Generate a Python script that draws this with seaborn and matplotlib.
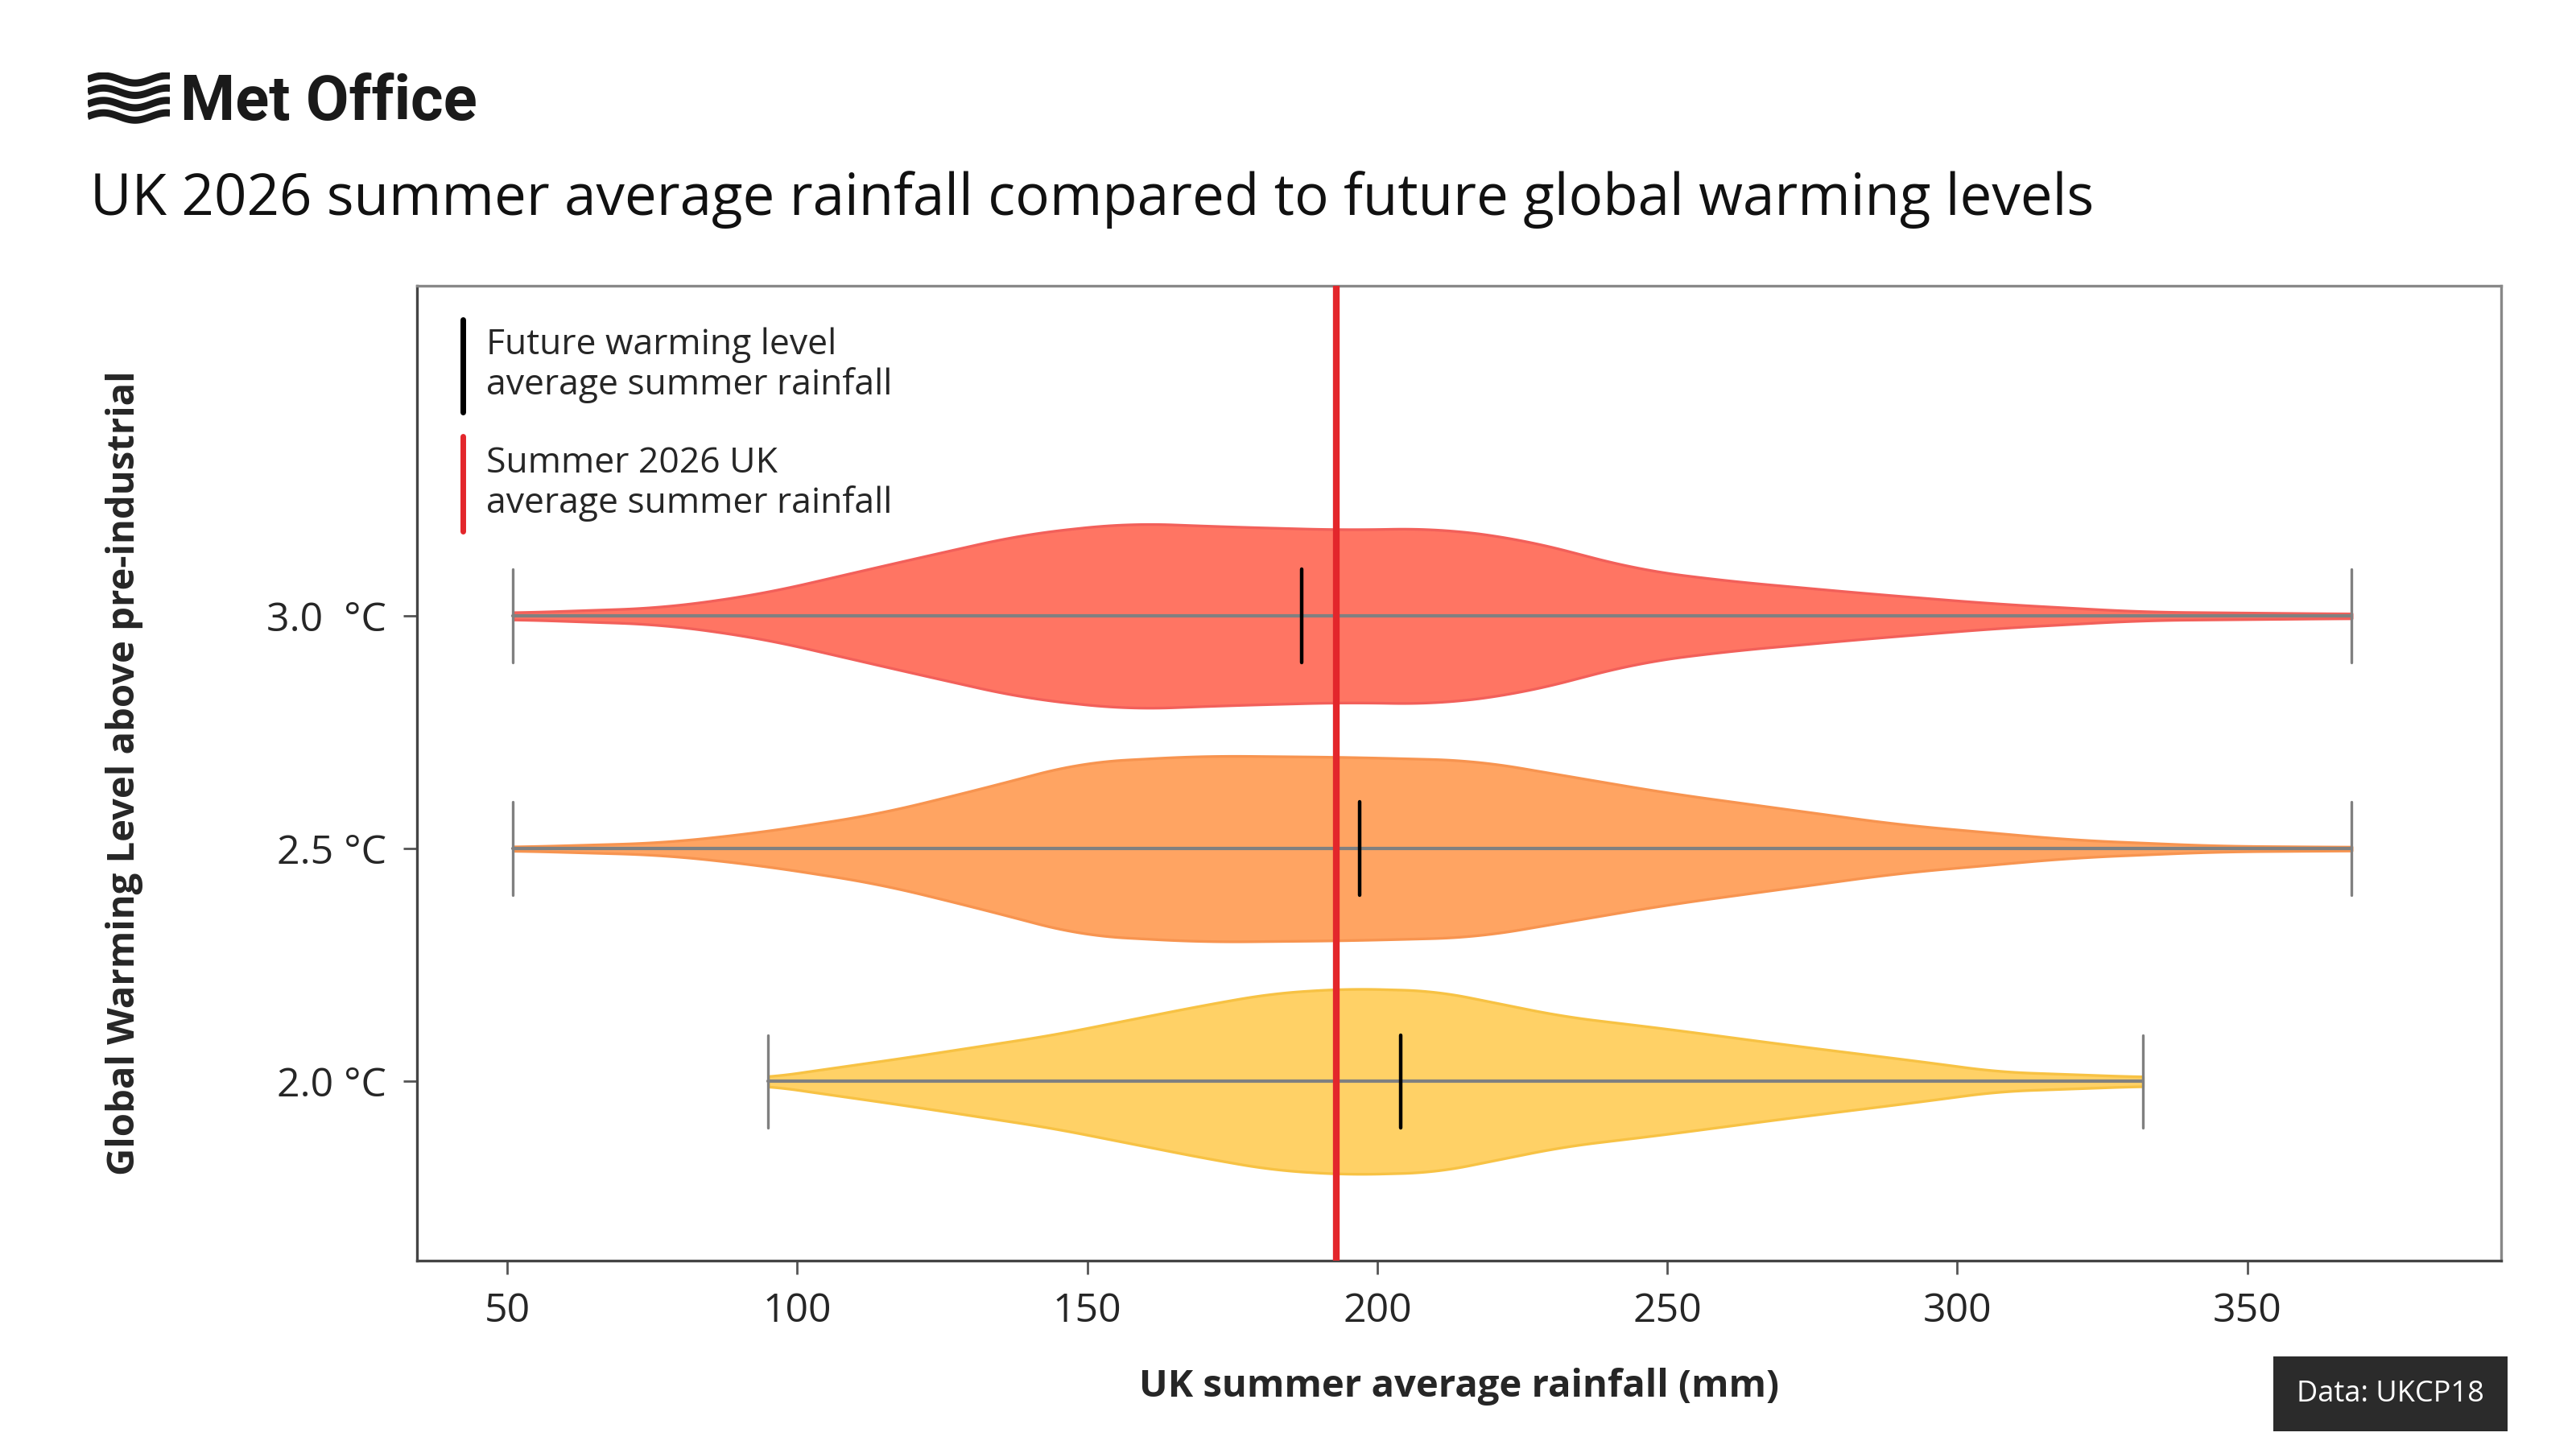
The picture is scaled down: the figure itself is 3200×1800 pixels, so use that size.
import numpy as np
import matplotlib
matplotlib.use("Agg")
import matplotlib.pyplot as plt
import seaborn as sns

levels = ["2.0 °C", "2.5 °C", "3.0  °C"]
colors = ["#FFD166", "#FFA462", "#FF7563"]
edges = ["#F7C244", "#F79450", "#F2605A"]
medians = [204, 197, 187]
mins = [95, 51, 51]
maxs = [332, 368, 368]
obs_2026 = 193

x_20 = [95, 96, 119, 144, 170, 182, 195, 210, 232, 250, 270, 295, 307, 332]
w_20 = [0.016, 0.022, 0.104, 0.20, 0.328, 0.38, 0.40, 0.39, 0.28, 0.226, 0.16, 0.082, 0.042, 0.02]
x_25 = [51, 77, 94, 114, 132, 149, 170, 195, 217, 232, 250, 270, 290, 320, 345, 368]
w_25 = [0.008, 0.026, 0.072, 0.15, 0.26, 0.372, 0.40, 0.394, 0.38, 0.316, 0.24, 0.172, 0.104, 0.038, 0.012, 0.008]
x_30 = [51, 77, 94, 119, 139, 157, 174, 195, 210, 225, 245, 260, 285, 307, 332, 368]
w_30 = [0.014, 0.036, 0.096, 0.24, 0.352, 0.40, 0.384, 0.37, 0.378, 0.33, 0.20, 0.152, 0.096, 0.052, 0.018, 0.01]
profiles = [(x_20, w_20), (x_25, w_25), (x_30, w_30)]

sns.set_theme(style="white")
plt.rcParams['font.family'] = ['Open Sans', 'DejaVu Sans']

fig = plt.figure(figsize=(16, 9), dpi=200)
ax = fig.add_axes([0.162, 0.13, 0.809, 0.673])

for i, (xs, ws) in enumerate(profiles):
    xs = np.array(xs, float); ws = np.array(ws, float)
    xf = np.linspace(xs.min(), xs.max(), 300)
    wf = np.interp(xf, xs, ws)
    k = np.ones(15) / 15
    wf = np.convolve(np.pad(wf, 7, mode='edge'), k, mode='valid')
    ax.fill_between(xf, i - wf, i + wf, color=colors[i], edgecolor=edges[i], linewidth=1.2, zorder=2)
    ax.plot([mins[i], maxs[i]], [i, i], color="#808080", lw=1.5, zorder=3)
    for e in (mins[i], maxs[i]):
        ax.plot([e, e], [i - 0.2, i + 0.2], color="#808080", lw=1.2, zorder=3)
    ax.plot([medians[i], medians[i]], [i - 0.2, i + 0.2], color="black", lw=1.6, zorder=4)

ax.axvline(obs_2026, color="#E3262B", lw=3, zorder=5)

ax.set_xlim(34.5, 393.8)
ax.set_ylim(-0.77, 3.42)
ax.set_xticks([50, 100, 150, 200, 250, 300, 350])
ax.set_yticks([0, 1, 2])
ax.set_yticklabels(levels)
ax.tick_params(axis='both', labelsize=18, length=6, width=1, color="#555555", direction='out', bottom=True, left=True, pad=8)
for s in ax.spines.values():
    s.set_color("#888888"); s.set_linewidth(1.2)
ax.spines['bottom'].set_color("#444444")
ax.spines['left'].set_color("#444444")
ax.set_xlabel("UK summer average rainfall (mm)", fontsize=17, fontweight='bold', labelpad=16)
ax.set_ylabel("Global Warming Level above pre-industrial", fontsize=17, fontweight='bold', labelpad=55)

# legend
ax.plot([0.022, 0.022], [0.965, 0.87], transform=ax.transAxes, color="black", lw=2.5, clip_on=False)
ax.text(0.033, 0.918, "Future warming level\naverage summer rainfall", transform=ax.transAxes,
        fontsize=16, va='center', linespacing=1.15)
ax.plot([0.022, 0.022], [0.845, 0.748], transform=ax.transAxes, color="#E3262B", lw=2.5, clip_on=False)
ax.text(0.033, 0.797, "Summer 2026 UK\naverage summer rainfall", transform=ax.transAxes,
        fontsize=16, va='center', linespacing=1.15)

# header
fig.text(0.035, 0.862, "UK 2026 summer average rainfall compared to future global warming levels",
         fontsize=25.5, va='center', color="#111111")
fig.text(0.070, 0.929, "Met Office", fontsize=28, fontweight='bold', va='center', color="#1a1a1a",
         family=['Roboto', 'DejaVu Sans'])
lax = fig.add_axes([0.034, 0.912, 0.032, 0.038])
t = np.linspace(0, 1, 100)
for off in [0, 1, 2, 3]:
    lax.plot(t, 0.9 - off * 0.27 + 0.08 * np.sin(2 * np.pi * t * 1.3), color="#1a1a1a", lw=3.2, solid_capstyle='butt')
lax.set_xlim(0, 1); lax.set_ylim(-0.15, 1.05); lax.axis('off')

fig.text(0.928, 0.038, "Data: UKCP18", fontsize=13, color="white", ha='center', va='center',
         bbox=dict(boxstyle='square,pad=0.8', facecolor="#2b2b2b", edgecolor='none'))

fig.savefig("out.png", dpi=200, facecolor="white")
